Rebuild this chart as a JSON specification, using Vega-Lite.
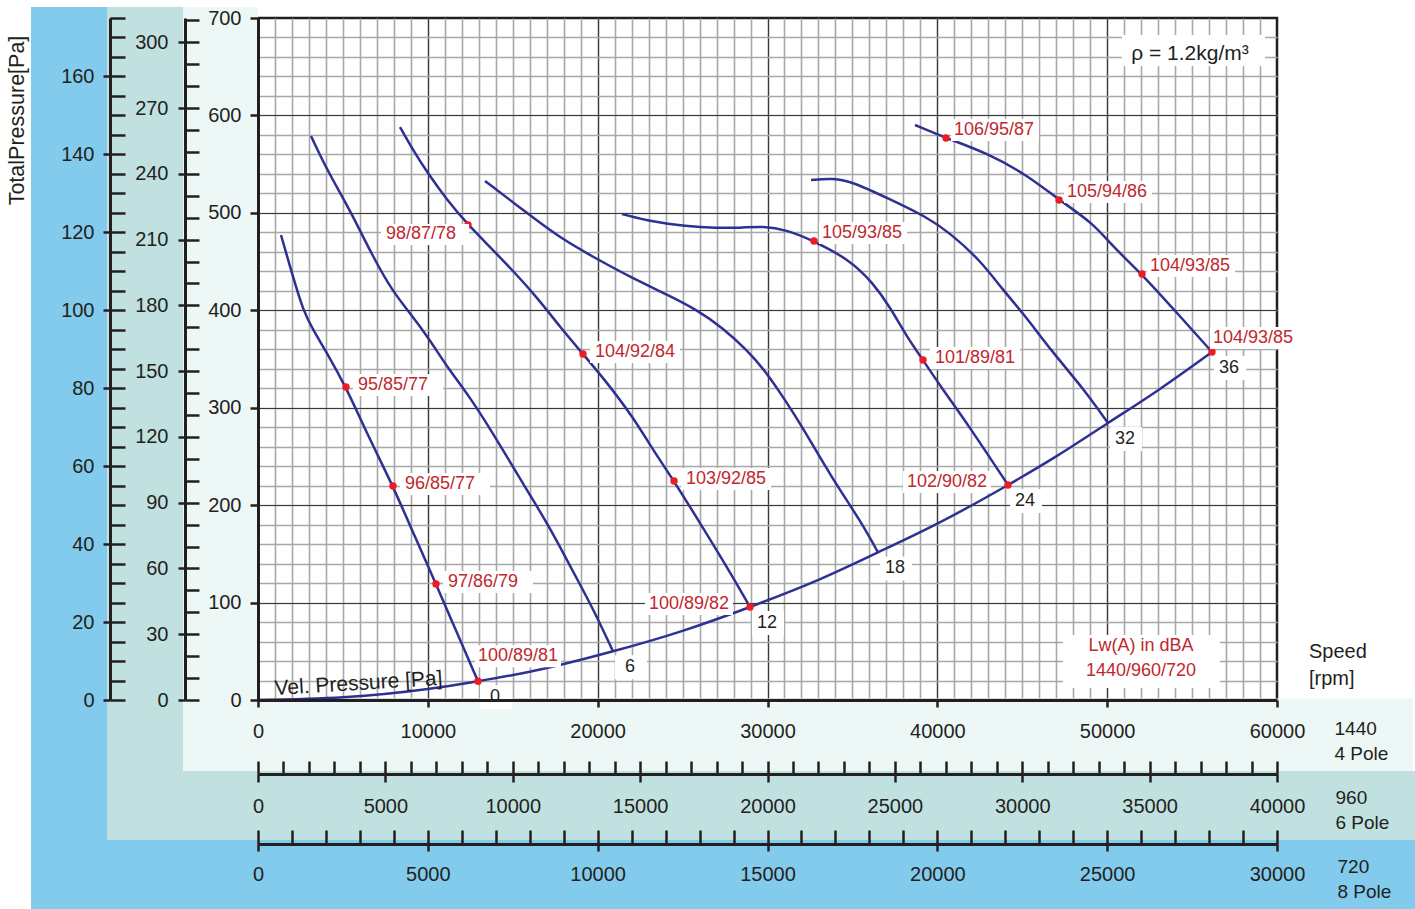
{
"$schema": "https://vega.github.io/schema/vega-lite/v6.json",
"width": 1019, "height": 682,
"autosize": {"type": "none"},
"padding": {"left": 258, "top": 18, "right": 138, "bottom": 209},
"background": "white",
"config": {
  "view": {"stroke": "#231F20", "strokeWidth": 2.5},
  "font": "Liberation Sans",
  "axis": {"labelFont": "Liberation Sans", "labelFontSize": 20, "labelColor": "#231F20", "domainColor": "#231F20", "tickColor": "#231F20", "domainWidth": 3, "tickWidth": 2.5, "labelFlush": false, "labelOverlap": false, "labelBound": false, "titleFont": "Liberation Sans", "titleFontWeight": "normal", "titleColor": "#231F20", "titleFontSize": 20, "grid": false}
},
"datasets": {
  "curves": [
    {"c":"0","Q":1354,"P":477.3},{"c":"0","Q":2061,"P":434.2},{"c":"0","Q":2650,"P":400.3},{"c":"0","Q":3238,"P":379.8},{"c":"0","Q":4063,"P":356.2},{"c":"0","Q":5181,"P":321.3},{"c":"0","Q":6595,"P":266.9},{"c":"0","Q":7949,"P":219.6},{"c":"0","Q":9244,"P":167.3},{"c":"0","Q":10481,"P":119.1},{"c":"0","Q":11717,"P":68.8},{"c":"0","Q":12954,"P":19.3},
    {"c":"6","Q":3121,"P":578.9},{"c":"6","Q":4063,"P":544.0},{"c":"6","Q":5417,"P":502.9},{"c":"6","Q":6771,"P":454.7},{"c":"6","Q":7949,"P":418.8},{"c":"6","Q":8950,"P":397.2},{"c":"6","Q":10128,"P":369.5},{"c":"6","Q":11129,"P":341.8},{"c":"6","Q":12483,"P":311.0},{"c":"6","Q":14073,"P":266.9},{"c":"6","Q":15015,"P":239.2},{"c":"6","Q":16016,"P":210.4},{"c":"6","Q":17017,"P":181.7},{"c":"6","Q":18194,"P":143.7},{"c":"6","Q":19136,"P":112.9},{"c":"6","Q":19961,"P":85.2},{"c":"6","Q":20902,"P":50.0},
    {"c":"12","Q":8361,"P":588.1},{"c":"12","Q":9127,"P":564.5},{"c":"12","Q":9951,"P":541.9},{"c":"12","Q":11129,"P":513.2},{"c":"12","Q":12365,"P":487.5},{"c":"12","Q":14426,"P":451.6},{"c":"12","Q":16428,"P":413.6},{"c":"12","Q":17782,"P":382.8},{"c":"12","Q":19136,"P":355.1},{"c":"12","Q":20432,"P":328.4},{"c":"12","Q":22080,"P":290.5},{"c":"12","Q":23258,"P":256.6},{"c":"12","Q":24495,"P":224.8},{"c":"12","Q":26025,"P":181.7},{"c":"12","Q":27615,"P":136.5},{"c":"12","Q":28970,"P":95.5},
    {"c":"18","Q":13366,"P":532.7},{"c":"18","Q":15839,"P":499.9},{"c":"18","Q":17782,"P":474.2},{"c":"18","Q":19961,"P":452.6},{"c":"18","Q":21904,"P":434.2},{"c":"18","Q":24259,"P":414.7},{"c":"18","Q":25849,"P":400.3},{"c":"18","Q":27380,"P":381.8},{"c":"18","Q":28793,"P":359.2},{"c":"18","Q":29970,"P":335.6},{"c":"18","Q":31030,"P":307.9},{"c":"18","Q":31914,"P":284.3},{"c":"18","Q":33857,"P":225.8},{"c":"18","Q":35447,"P":184.8},{"c":"18","Q":36506,"P":151.5},
    {"c":"24","Q":21433,"P":498.8},{"c":"24","Q":23258,"P":490.6},{"c":"24","Q":25142,"P":486.5},{"c":"24","Q":27026,"P":484.5},{"c":"24","Q":28381,"P":484.5},{"c":"24","Q":29735,"P":486.5},{"c":"24","Q":31148,"P":482.4},{"c":"24","Q":32738,"P":471.1},{"c":"24","Q":34857,"P":451.6},{"c":"24","Q":36212,"P":428.0},{"c":"24","Q":37213,"P":403.4},{"c":"24","Q":38214,"P":372.6},{"c":"24","Q":39156,"P":349.0},{"c":"24","Q":40334,"P":318.2},{"c":"24","Q":41747,"P":284.3},{"c":"24","Q":44161,"P":220.7},
    {"c":"32","Q":32562,"P":533.7},{"c":"32","Q":33857,"P":535.8},{"c":"32","Q":35034,"P":531.7},{"c":"32","Q":37036,"P":515.3},{"c":"32","Q":39391,"P":495.7},{"c":"32","Q":40746,"P":479.3},{"c":"32","Q":42512,"P":451.6},{"c":"32","Q":43866,"P":420.8},{"c":"32","Q":45044,"P":397.2},{"c":"32","Q":46810,"P":356.2},{"c":"32","Q":48577,"P":320.2},{"c":"32","Q":50049,"P":284.3},
    {"c":"36","Q":38684,"P":590.2},{"c":"36","Q":40510,"P":576.8},{"c":"36","Q":42925,"P":561.4},{"c":"36","Q":45280,"P":538.9},{"c":"36","Q":47164,"P":513.2},{"c":"36","Q":49166,"P":489.6},{"c":"36","Q":50344,"P":465.0},{"c":"36","Q":52051,"P":437.2},{"c":"36","Q":54113,"P":397.2},{"c":"36","Q":56173,"P":357.2}
  ],
  "vel": [
    {"Q":0,"P":0},{"Q":5000,"P":2.8},{"Q":10000,"P":11.3},{"Q":12954,"P":19.3},{"Q":16000,"P":29},{"Q":20902,"P":50},{"Q":25000,"P":71},{"Q":28970,"P":95.5},{"Q":33000,"P":123.3},{"Q":36506,"P":151.5},{"Q":40000,"P":181},{"Q":44161,"P":220.7},{"Q":47000,"P":250},{"Q":50049,"P":284.3},{"Q":53000,"P":318},{"Q":56173,"P":357.2}
  ],
  "dots": [
    {"Q":5181,"P":321.3,"t":"95/85/77","pos":"r"},
    {"Q":7949,"P":219.6,"t":"96/85/77","pos":"r"},
    {"Q":10481,"P":119.1,"t":"97/86/79","pos":"r"},
    {"Q":12954,"P":19.3,"t":"100/89/81","pos":"u"},
    {"Q":12365,"P":487.5,"t":"98/87/78","pos":"ld"},
    {"Q":19136,"P":355.1,"t":"104/92/84","pos":"r"},
    {"Q":24495,"P":224.8,"t":"103/92/85","pos":"r"},
    {"Q":28970,"P":95.5,"t":"100/89/82","pos":"l"},
    {"Q":32738,"P":471.1,"t":"105/93/85","pos":"ru"},
    {"Q":39156,"P":349.0,"t":"101/89/81","pos":"r"},
    {"Q":44161,"P":220.7,"t":"102/90/82","pos":"l"},
    {"Q":40510,"P":576.8,"t":"106/95/87","pos":"ru"},
    {"Q":47164,"P":513.2,"t":"105/94/86","pos":"ru"},
    {"Q":52051,"P":437.2,"t":"104/93/85","pos":"ru"},
    {"Q":56173,"P":357.2,"t":"104/93/85","pos":"ur"}
  ],
  "ends": [
    {"Q":12954,"P":19.3,"t":"0"},{"Q":20902,"P":50,"t":"6"},{"Q":28970,"P":95.5,"t":"12"},{"Q":36506,"P":151.5,"t":"18"},{"Q":44161,"P":220.7,"t":"24"},{"Q":50049,"P":284.3,"t":"32"},{"Q":56173,"P":357.2,"t":"36"}
  ]
},
"resolve": {"scale": {"x": "independent", "y": "independent"}, "axis": {"x": "independent", "y": "independent"}},
"layer": [
  {"data": {"values": [{}]}, "mark": {"type": "rect", "fill": "#82CBEC", "strokeWidth": 0},
   "encoding": {"x": {"datum": -13366, "type": "quantitative", "scale": {"domain": [0,60000], "nice": false, "zero": false}, "axis": null}, "x2": {"datum": -8891},
                "y": {"datum": 711.3, "type": "quantitative", "scale": {"domain": [0,700], "nice": false, "zero": false}, "axis": null}, "y2": {"datum": -214.5}}},
  {"data": {"values": [{}]}, "mark": {"type": "rect", "fill": "#82CBEC", "strokeWidth": 0},
   "encoding": {"x": {"datum": -8891, "type": "quantitative", "scale": {"domain": [0,60000], "nice": false, "zero": false}, "axis": null}, "x2": {"datum": 68126},
                "y": {"datum": -143.7, "type": "quantitative", "scale": {"domain": [0,700], "nice": false, "zero": false}, "axis": null}, "y2": {"datum": -214.5}}},
  {"data": {"values": [{}]}, "mark": {"type": "rect", "fill": "#C1E1E0", "strokeWidth": 0},
   "encoding": {"x": {"datum": -8891, "type": "quantitative", "scale": {"domain": [0,60000], "nice": false, "zero": false}, "axis": null}, "x2": {"datum": -4416},
                "y": {"datum": 711.3, "type": "quantitative", "scale": {"domain": [0,700], "nice": false, "zero": false}, "axis": null}, "y2": {"datum": -143.7}}},
  {"data": {"values": [{}]}, "mark": {"type": "rect", "fill": "#C1E1E0", "strokeWidth": 0},
   "encoding": {"x": {"datum": -4416, "type": "quantitative", "scale": {"domain": [0,60000], "nice": false, "zero": false}, "axis": null}, "x2": {"datum": 68126},
                "y": {"datum": -72.9, "type": "quantitative", "scale": {"domain": [0,700], "nice": false, "zero": false}, "axis": null}, "y2": {"datum": -143.7}}},
  {"data": {"values": [{}]}, "mark": {"type": "rect", "fill": "#EDF7F6", "strokeWidth": 0},
   "encoding": {"x": {"datum": -4416, "type": "quantitative", "scale": {"domain": [0,60000], "nice": false, "zero": false}, "axis": null}, "x2": {"datum": 0},
                "y": {"datum": 711.3, "type": "quantitative", "scale": {"domain": [0,700], "nice": false, "zero": false}, "axis": null}, "y2": {"datum": -72.9}}},
  {"data": {"values": [{}]}, "mark": {"type": "rect", "fill": "#EDF7F6", "strokeWidth": 0},
   "encoding": {"x": {"datum": 0, "type": "quantitative", "scale": {"domain": [0,60000], "nice": false, "zero": false}, "axis": null}, "x2": {"datum": 68008},
                "y": {"datum": 1.5, "type": "quantitative", "scale": {"domain": [0,700], "nice": false, "zero": false}, "axis": null}, "y2": {"datum": -72.9}}},

  {"data": {"values": [{}]}, "mark": {"type": "point", "opacity": 0},
   "encoding": {"x": {"datum": 0, "type": "quantitative", "scale": {"domain": [0,60000], "nice": false, "zero": false},
                      "axis": {"orient": "bottom", "grid": true, "gridColor": "#A8A8A8", "gridWidth": 1.6, "domain": false, "ticks": false, "labels": false, "title": null, "zindex": 0,
                               "values": [1000,2000,3000,4000,5000,6000,7000,8000,9000,10000,11000,12000,13000,14000,15000,16000,17000,18000,19000,20000,21000,22000,23000,24000,25000,26000,27000,28000,29000,30000,31000,32000,33000,34000,35000,36000,37000,38000,39000,40000,41000,42000,43000,44000,45000,46000,47000,48000,49000,50000,51000,52000,53000,54000,55000,56000,57000,58000,59000]}},
                "y": {"datum": 0, "type": "quantitative", "scale": {"domain": [0,700], "nice": false, "zero": false},
                      "axis": {"orient": "left", "grid": true, "gridColor": "#A8A8A8", "gridWidth": 1.6, "domain": false, "ticks": false, "labels": false, "title": null, "zindex": 0,
                               "values": [20,40,60,80,100,120,140,160,180,200,220,240,260,280,300,320,340,360,380,400,420,440,460,480,500,520,540,560,580,600,620,640,660,680]}}}},
  {"data": {"values": [{}]}, "mark": {"type": "point", "opacity": 0},
   "encoding": {"x": {"datum": 0, "type": "quantitative", "scale": {"domain": [0,60000], "nice": false, "zero": false},
                      "axis": {"orient": "bottom", "grid": true, "gridColor": "#3A3A3A", "gridWidth": 1.2, "domain": false, "ticks": false, "labels": false, "title": null, "zindex": 0,
                               "values": [10000,20000,30000,40000,50000]}},
                "y": {"datum": 0, "type": "quantitative", "scale": {"domain": [0,700], "nice": false, "zero": false},
                      "axis": {"orient": "left", "grid": true, "gridColor": "#3A3A3A", "gridWidth": 1.2, "domain": false, "ticks": false, "labels": false, "title": null, "zindex": 0,
                               "values": [100,200,300,400,500,600]}}}},

  {"data": {"name": "vel"}, "mark": {"type": "line", "color": "#2E3192", "strokeWidth": 2.5, "interpolate": "monotone"},
   "encoding": {"x": {"field": "Q", "type": "quantitative", "scale": {"domain": [0,60000], "nice": false, "zero": false}, "axis": null},
                "y": {"field": "P", "type": "quantitative", "scale": {"domain": [0,700], "nice": false, "zero": false}, "axis": null}}},
  {"data": {"name": "curves"}, "mark": {"type": "line", "color": "#2E3192", "strokeWidth": 2.5, "interpolate": "basis"},
   "encoding": {"x": {"field": "Q", "type": "quantitative", "scale": {"domain": [0,60000], "nice": false, "zero": false}, "axis": null},
                "y": {"field": "P", "type": "quantitative", "scale": {"domain": [0,700], "nice": false, "zero": false}, "axis": null},
                "detail": {"field": "c", "type": "nominal"}}},
  {"data": {"name": "dots"}, "mark": {"type": "point", "filled": true, "color": "#ED1C24", "size": 55, "opacity": 1, "strokeWidth": 0},
   "encoding": {"x": {"field": "Q", "type": "quantitative", "scale": {"domain": [0,60000], "nice": false, "zero": false}, "axis": null},
                "y": {"field": "P", "type": "quantitative", "scale": {"domain": [0,700], "nice": false, "zero": false}, "axis": null}}},
  {"data": {"name": "dots"}, "mark": {"type": "point", "filled": true, "color": "white", "size": 40000, "opacity": 1, "strokeWidth": 0},
   "encoding": {"x": {"field": "Q", "type": "quantitative", "scale": {"domain": [0,60000], "nice": false, "zero": false}, "axis": null},
                "y": {"field": "P", "type": "quantitative", "scale": {"domain": [0,700], "nice": false, "zero": false}, "axis": null},
                "shape": {"field": "pos", "type": "nominal", "legend": null,
                          "scale": {"domain": ["r","ru","u","ur","l","ld"],
                                    "range": ["M0.07,-0.13H0.97V0.09H0.07Z","M0.05,-0.19H0.93V0.03H0.05Z","M-0.03,-0.36H0.83V-0.14H-0.03Z","M-0.02,-0.25H0.85V-0.03H-0.02Z","M-1.05,-0.14H-0.17V0.08H-1.05Z","M-0.87,-0.01H0.01V0.2H-0.87Z"]}}}},
  {"data": {"name": "dots"}, "transform": [{"filter": "datum.pos === 'r'"}],
   "mark": {"type": "text", "align": "left", "baseline": "middle", "dx": 12, "dy": -2, "fontSize": 18, "color": "#C1272D", "font": "Liberation Sans"},
   "encoding": {"x": {"field": "Q", "type": "quantitative", "scale": {"domain": [0,60000], "nice": false, "zero": false}, "axis": null},
                "y": {"field": "P", "type": "quantitative", "scale": {"domain": [0,700], "nice": false, "zero": false}, "axis": null},
                "text": {"field": "t"}}},
  {"data": {"name": "dots"}, "transform": [{"filter": "datum.pos === 'ru'"}],
   "mark": {"type": "text", "align": "left", "baseline": "middle", "dx": 8, "dy": -8, "fontSize": 18, "color": "#C1272D", "font": "Liberation Sans"},
   "encoding": {"x": {"field": "Q", "type": "quantitative", "scale": {"domain": [0,60000], "nice": false, "zero": false}, "axis": null},
                "y": {"field": "P", "type": "quantitative", "scale": {"domain": [0,700], "nice": false, "zero": false}, "axis": null},
                "text": {"field": "t"}}},
  {"data": {"name": "dots"}, "transform": [{"filter": "datum.pos === 'u'"}],
   "mark": {"type": "text", "align": "left", "baseline": "middle", "dx": 0, "dy": -25, "fontSize": 18, "color": "#C1272D", "font": "Liberation Sans"},
   "encoding": {"x": {"field": "Q", "type": "quantitative", "scale": {"domain": [0,60000], "nice": false, "zero": false}, "axis": null},
                "y": {"field": "P", "type": "quantitative", "scale": {"domain": [0,700], "nice": false, "zero": false}, "axis": null},
                "text": {"field": "t"}}},
  {"data": {"name": "dots"}, "transform": [{"filter": "datum.pos === 'ur'"}],
   "mark": {"type": "text", "align": "left", "baseline": "middle", "dx": 1, "dy": -14, "fontSize": 18, "color": "#C1272D", "font": "Liberation Sans"},
   "encoding": {"x": {"field": "Q", "type": "quantitative", "scale": {"domain": [0,60000], "nice": false, "zero": false}, "axis": null},
                "y": {"field": "P", "type": "quantitative", "scale": {"domain": [0,700], "nice": false, "zero": false}, "axis": null},
                "text": {"field": "t"}}},
  {"data": {"name": "dots"}, "transform": [{"filter": "datum.pos === 'l'"}],
   "mark": {"type": "text", "align": "right", "baseline": "middle", "dx": -21, "dy": -3, "fontSize": 18, "color": "#C1272D", "font": "Liberation Sans"},
   "encoding": {"x": {"field": "Q", "type": "quantitative", "scale": {"domain": [0,60000], "nice": false, "zero": false}, "axis": null},
                "y": {"field": "P", "type": "quantitative", "scale": {"domain": [0,700], "nice": false, "zero": false}, "axis": null},
                "text": {"field": "t"}}},
  {"data": {"name": "dots"}, "transform": [{"filter": "datum.pos === 'ld'"}],
   "mark": {"type": "text", "align": "right", "baseline": "middle", "dx": -12, "dy": 9, "fontSize": 18, "color": "#C1272D", "font": "Liberation Sans"},
   "encoding": {"x": {"field": "Q", "type": "quantitative", "scale": {"domain": [0,60000], "nice": false, "zero": false}, "axis": null},
                "y": {"field": "P", "type": "quantitative", "scale": {"domain": [0,700], "nice": false, "zero": false}, "axis": null},
                "text": {"field": "t"}}},
  {"data": {"name": "ends"}, "mark": {"type": "point", "filled": true, "color": "white", "size": 40000, "opacity": 1, "strokeWidth": 0, "shape": "M0.02,0.04H0.34V0.28H0.02Z"},
   "encoding": {"x": {"field": "Q", "type": "quantitative", "scale": {"domain": [0,60000], "nice": false, "zero": false}, "axis": null},
                "y": {"field": "P", "type": "quantitative", "scale": {"domain": [0,700], "nice": false, "zero": false}, "axis": null}}},
  {"data": {"name": "ends"}, "mark": {"type": "text", "align": "center", "baseline": "middle", "dx": 17, "dy": 16, "fontSize": 18, "color": "#231F20", "font": "Liberation Sans"},
   "encoding": {"x": {"field": "Q", "type": "quantitative", "scale": {"domain": [0,60000], "nice": false, "zero": false}, "axis": null},
                "y": {"field": "P", "type": "quantitative", "scale": {"domain": [0,700], "nice": false, "zero": false}, "axis": null},
                "text": {"field": "t"}}},

  {"data": {"values": [{}]}, "mark": {"type": "rect", "fill": "white", "strokeWidth": 0},
   "encoding": {"x": {"datum": 50873, "type": "quantitative", "scale": {"domain": [0,60000], "nice": false, "zero": false}, "axis": null}, "x2": {"datum": 59293},
                "y": {"datum": 682.6, "type": "quantitative", "scale": {"domain": [0,700], "nice": false, "zero": false}, "axis": null}, "y2": {"datum": 650.7}}},
  {"data": {"values": [{}]}, "mark": {"type": "text", "align": "center", "baseline": "middle", "fontSize": 21, "color": "#231F20", "font": "Liberation Sans", "text": "ρ = 1.2kg/m³"},
   "encoding": {"x": {"datum": 54877, "type": "quantitative", "scale": {"domain": [0,60000], "nice": false, "zero": false}, "axis": null},
                "y": {"datum": 663.1, "type": "quantitative", "scale": {"domain": [0,700], "nice": false, "zero": false}, "axis": null}}},
  {"data": {"values": [{}]}, "mark": {"type": "rect", "fill": "white", "strokeWidth": 0},
   "encoding": {"x": {"datum": 47399, "type": "quantitative", "scale": {"domain": [0,60000], "nice": false, "zero": false}, "axis": null}, "x2": {"datum": 56644},
                "y": {"datum": 66.7, "type": "quantitative", "scale": {"domain": [0,700], "nice": false, "zero": false}, "axis": null}, "y2": {"datum": 12.3}}},
  {"data": {"values": [{}]}, "mark": {"type": "text", "align": "center", "baseline": "middle", "fontSize": 18, "lineHeight": 25, "color": "#C1272D", "font": "Liberation Sans", "text": ["Lw(A) in dBA", "1440/960/720"]},
   "encoding": {"x": {"datum": 51992, "type": "quantitative", "scale": {"domain": [0,60000], "nice": false, "zero": false}, "axis": null},
                "y": {"datum": 55.4, "type": "quantitative", "scale": {"domain": [0,700], "nice": false, "zero": false}, "axis": null}}},
  {"data": {"values": [{}]}, "mark": {"type": "text", "align": "left", "baseline": "alphabetic", "angle": -3.5, "fontSize": 21, "color": "#231F20", "font": "Liberation Sans", "text": "Vel. Pressure [Pa]"},
   "encoding": {"x": {"datum": 1001, "type": "quantitative", "scale": {"domain": [0,60000], "nice": false, "zero": false}, "axis": null},
                "y": {"datum": 5.1, "type": "quantitative", "scale": {"domain": [0,700], "nice": false, "zero": false}, "axis": null}}},
  {"data": {"values": [{}]}, "mark": {"type": "text", "align": "left", "baseline": "middle", "fontSize": 20, "lineHeight": 27, "color": "#231F20", "font": "Liberation Sans", "text": ["Speed", "[rpm]"]},
   "encoding": {"x": {"datum": 61885, "type": "quantitative", "scale": {"domain": [0,60000], "nice": false, "zero": false}, "axis": null},
                "y": {"datum": 49.3, "type": "quantitative", "scale": {"domain": [0,700], "nice": false, "zero": false}, "axis": null}}},

  {"data": {"values": [{}]}, "mark": {"type": "point", "opacity": 0},
   "encoding": {"x": {"datum": 0, "type": "quantitative", "scale": {"domain": [0,60000], "nice": false, "zero": false},
                      "axis": {"orient": "bottom", "values": [0,10000,20000,30000,40000,50000,60000], "format": "d", "tickSize": 7, "labelPadding": 14, "zindex": 2,
                               "title": ["1440", "4 Pole"], "titleX": 1076, "titleY": 34, "titleAlign": "left", "titleAnchor": "start", "titleBaseline": "alphabetic", "titleAngle": 0, "titleFontSize": 19, "titleLineHeight": 25}},
                "y": {"datum": 0, "type": "quantitative", "scale": {"domain": [0,700], "nice": false, "zero": false},
                      "axis": {"orient": "left", "values": [0,100,200,300,400,500,600,700], "format": "d", "tickSize": 8, "labelPadding": 9, "zindex": 2, "title": null}}}},
  {"data": {"values": [{}]}, "mark": {"type": "point", "opacity": 0},
   "encoding": {"x": {"datum": 0, "type": "quantitative", "scale": {"domain": [0,40000], "nice": false, "zero": false},
                      "axis": {"orient": "bottom", "offset": 74, "tickSize": -13, "labels": false, "title": null, "zindex": 2,
                               "values": [0,1000,2000,3000,4000,5000,6000,7000,8000,9000,10000,11000,12000,13000,14000,15000,16000,17000,18000,19000,20000,21000,22000,23000,24000,25000,26000,27000,28000,29000,30000,31000,32000,33000,34000,35000,36000,37000,38000,39000,40000]}},
                "y": {"datum": 0, "type": "quantitative", "scale": {"domain": [0,311.111], "nice": false, "zero": false},
                      "axis": {"orient": "left", "offset": 73, "tickSize": -14, "labels": false, "title": null, "zindex": 2,
                               "values": [0,10,20,30,40,50,60,70,80,90,100,110,120,130,140,150,160,170,180,190,200,210,220,230,240,250,260,270,280,290,300,310]}}}},
  {"data": {"values": [{}]}, "mark": {"type": "point", "opacity": 0},
   "encoding": {"x": {"datum": 0, "type": "quantitative", "scale": {"domain": [0,40000], "nice": false, "zero": false},
                      "axis": {"orient": "bottom", "offset": 74, "domain": false, "tickSize": 8, "labelPadding": 14, "format": "d", "zindex": 2,
                               "values": [0,5000,10000,15000,20000,25000,30000,35000,40000],
                               "title": ["960", "6 Pole"], "titleX": 1077, "titleY": 29, "titleAlign": "left", "titleAnchor": "start", "titleBaseline": "alphabetic", "titleAngle": 0, "titleFontSize": 19, "titleLineHeight": 25}},
                "y": {"datum": 0, "type": "quantitative", "scale": {"domain": [0,311.111], "nice": false, "zero": false},
                      "axis": {"orient": "left", "offset": 73, "domain": false, "tickSize": 7, "labelPadding": 10, "format": "d", "title": null, "zindex": 2,
                               "values": [0,30,60,90,120,150,180,210,240,270,300]}}}},
  {"data": {"values": [{}]}, "mark": {"type": "point", "opacity": 0},
   "encoding": {"x": {"datum": 0, "type": "quantitative", "scale": {"domain": [0,30000], "nice": false, "zero": false},
                      "axis": {"orient": "bottom", "offset": 144, "tickSize": -14, "labels": false, "title": null, "zindex": 2,
                               "values": [0,1000,2000,3000,4000,5000,6000,7000,8000,9000,10000,11000,12000,13000,14000,15000,16000,17000,18000,19000,20000,21000,22000,23000,24000,25000,26000,27000,28000,29000,30000]}},
                "y": {"datum": 0, "type": "quantitative", "scale": {"domain": [0,175], "nice": false, "zero": false},
                      "axis": {"orient": "left", "offset": 148, "tickSize": -15, "labels": false, "title": null, "zindex": 2,
                               "values": [0,5,10,15,20,25,30,35,40,45,50,55,60,65,70,75,80,85,90,95,100,105,110,115,120,125,130,135,140,145,150,155,160,165,170,175]}}}},
  {"data": {"values": [{}]}, "mark": {"type": "point", "opacity": 0},
   "encoding": {"x": {"datum": 0, "type": "quantitative", "scale": {"domain": [0,30000], "nice": false, "zero": false},
                      "axis": {"orient": "bottom", "offset": 144, "domain": false, "tickSize": 7, "labelPadding": 13, "format": "d", "zindex": 2,
                               "values": [0,5000,10000,15000,20000,25000,30000],
                               "title": ["720", "8 Pole"], "titleX": 1079, "titleY": 28, "titleAlign": "left", "titleAnchor": "start", "titleBaseline": "alphabetic", "titleAngle": 0, "titleFontSize": 19, "titleLineHeight": 25}},
                "y": {"datum": 0, "type": "quantitative", "scale": {"domain": [0,175], "nice": false, "zero": false},
                      "axis": {"orient": "left", "offset": 148, "domain": false, "tickSize": 7, "labelPadding": 9, "format": "d", "zindex": 2,
                               "values": [0,20,40,60,80,100,120,140,160],
                               "title": "TotalPressure[Pa]", "titleX": -93, "titleY": 102, "titleAngle": -90, "titleAlign": "center", "titleBaseline": "middle", "titleFontSize": 21.5}}}}
]
}
